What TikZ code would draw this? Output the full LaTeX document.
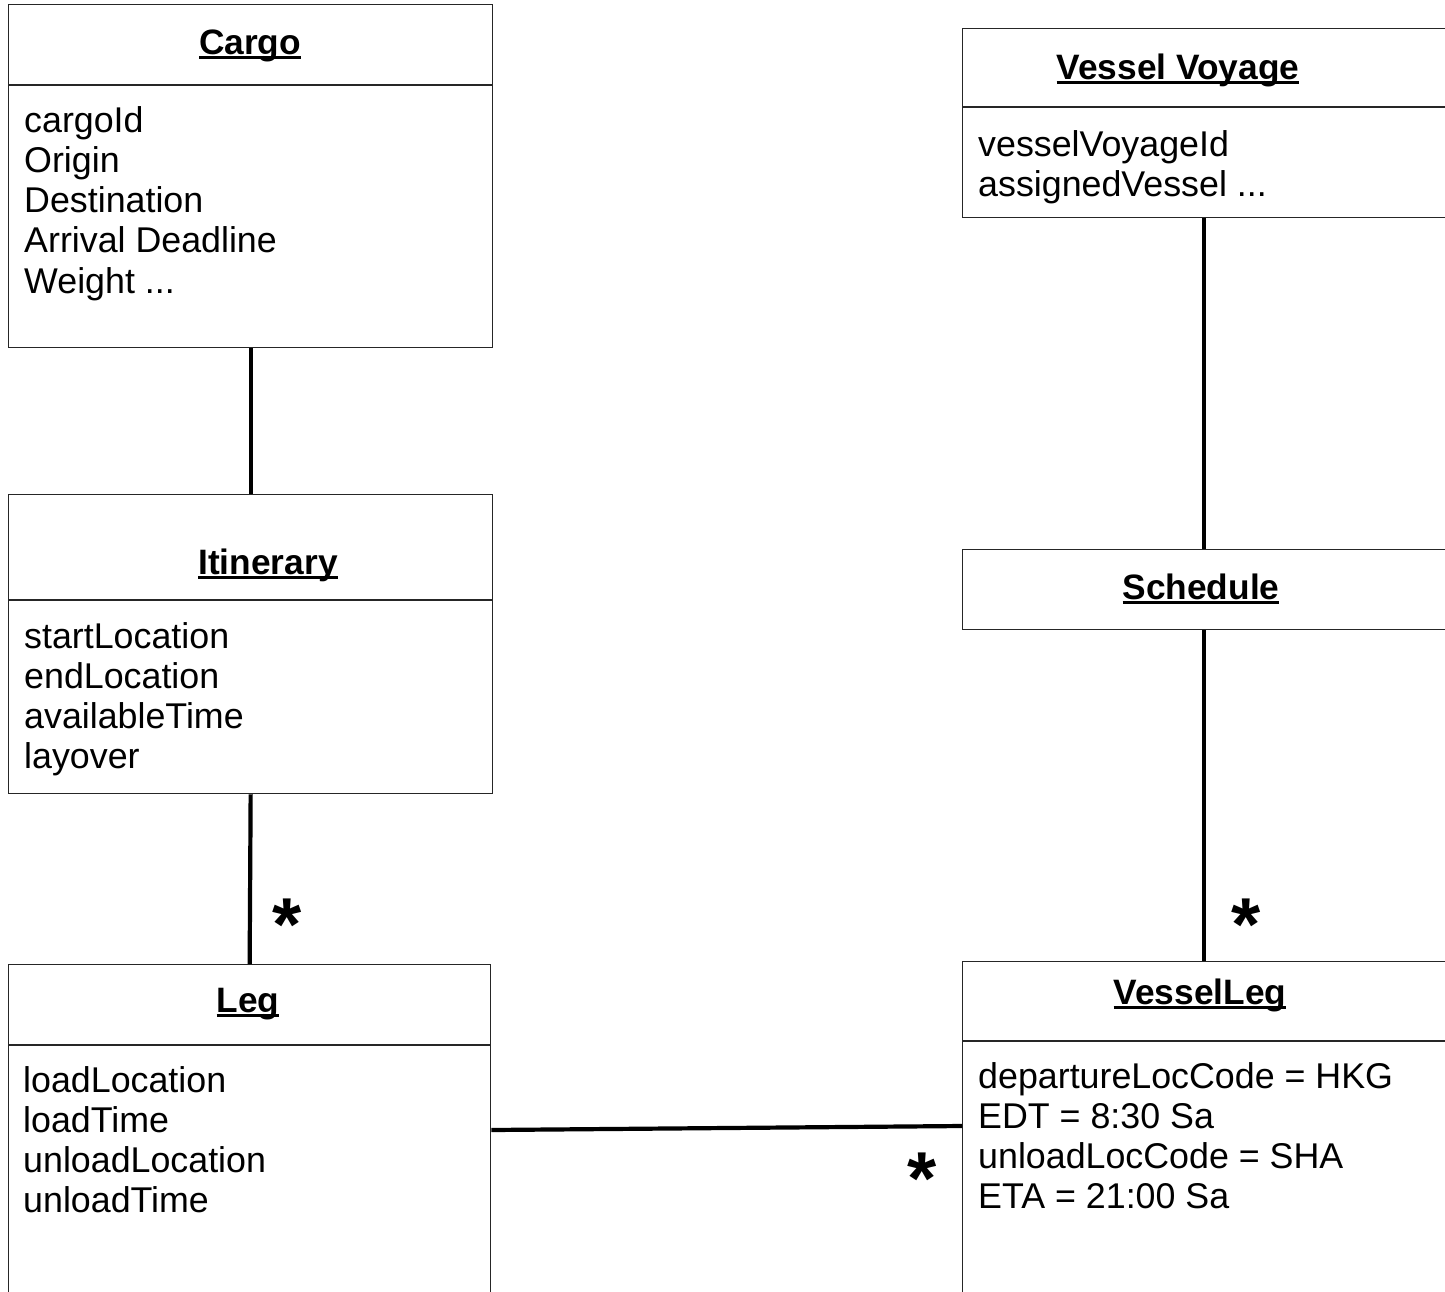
\documentclass[tikz,border=0pt]{standalone}
\usepackage{fontspec}
\setmainfont{Liberation Sans}
\usetikzlibrary{calc}
\newcommand\myul[1]{\setbox0\hbox{#1}\rlap{\rule[-5pt]{\wd0}{2.6pt}}\box0}
\begin{document}
\begin{tikzpicture}[x=1pt,y=-1pt,
  box/.style={draw=black!85, line width=1.3pt, inner sep=0pt, anchor=north west},
  divider/.style={draw=black!85, line width=1.3pt},
  ttl/.style={anchor=base, inner sep=0pt, font=\fontsize{35.3}{40.2}\selectfont\bfseries},
  attr/.style={anchor=base west, inner sep=0pt, align=left, font=\fontsize{35.8}{40.2}\selectfont},
  assoc/.style={line width=4.2pt, black},
  mult/.style={anchor=base, inner sep=0pt, font=\fontsize{75}{75}\selectfont\bfseries}]
\clip (0,0) rectangle (1445,1291);
\fill[white] (0,0) rectangle (1445,1291);

% boxes
\node[box, minimum width=484pt, minimum height=343pt] (cargo) at (8,4) {};
\node[box, minimum width=484pt, minimum height=299pt] (itin) at (8,494) {};
\node[box, minimum width=482pt, minimum height=346pt] (leg) at (8,964) {};
\node[box, minimum width=498pt, minimum height=189pt] (vv) at (962,28) {};
\node[box, minimum width=498pt, minimum height=80pt] (sched) at (962,549) {};
\node[box, minimum width=498pt, minimum height=349pt] (vleg) at (962,961) {};

% dividers
\draw[divider] ($(cargo.north west)+(0,81)$) -- ($(cargo.north east)+(0,81)$);
\draw[divider] ($(itin.north west)+(0,106)$) -- ($(itin.north east)+(0,106)$);
\draw[divider] ($(leg.north west)+(0,81)$) -- ($(leg.north east)+(0,81)$);
\draw[divider] ($(vv.north west)+(0,79)$) -- ($(vv.north east)+(0,79)$);
\draw[divider] ($(vleg.north west)+(0,80)$) -- ($(vleg.north east)+(0,80)$);

% titles
\node[ttl] (cargoT) at (250,54) {\myul{Cargo}};
\node[ttl] (itinT) at (268,574) {\myul{Itinerary}};
\node[ttl] (legT) at (248,1012) {\myul{Leg}};
\node[ttl] (vvT) at (1178,79) {\myul{Vessel Voyage}};
\node[ttl] (schedT) at (1201,599) {\myul{Schedule}};
\node[ttl] (vlegT) at (1200,1004) {\myul{VesselLeg}};

% attributes (base anchor = last line's baseline)
\node[attr] (cargoA) at (24,293) {cargoId\\Origin\\Destination\\Arrival Deadline\\Weight ...};
\node[attr] (itinA) at (24,768.6) {startLocation\\endLocation\\availableTime\\layover};
\node[attr] (legA) at (23,1212.6) {loadLocation\\loadTime\\unloadLocation\\unloadTime};
\node[attr] (vvA) at (978,196.2) {vesselVoyageId\\assignedVessel ...};
\node[attr] (vlegA) at (978,1208.6) {departureLocCode = HKG\\EDT = 8:30 Sa\\unloadLocCode = SHA\\ETA = 21:00 Sa};

% connectors
\draw[assoc] (cargo.south) -- (itin.north);
\draw[assoc] (itin.south) -- (leg.north);
\draw[assoc] ($(leg.north east)+(0,166)$) -- ($(vleg.north west)+(0,165)$);
\draw[assoc] ($(vv.south west)+(242,0)$) -- ($(sched.north west)+(242,0)$);
\draw[assoc] ($(sched.south west)+(242,0)$) -- ($(vleg.north west)+(242,0)$);

% multiplicities
\node[mult] (m1) at (287,950) {*};
\node[mult] (m2) at (1246,950) {*};
\node[mult] (m3) at (922,1204) {*};
\end{tikzpicture}
\end{document}
